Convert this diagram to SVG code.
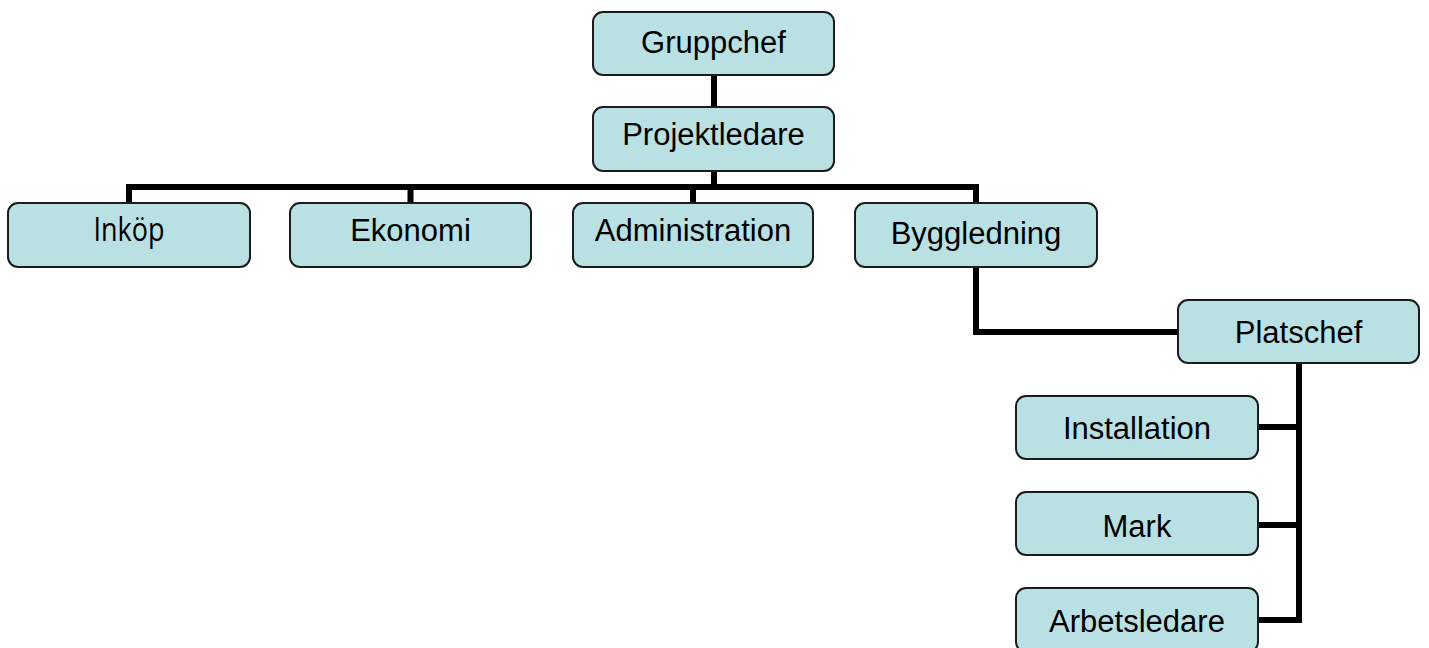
<svg xmlns="http://www.w3.org/2000/svg" width="1429" height="648" viewBox="0 0 1429 648">
<style>
.box{fill:#B9E0E3;stroke:#1c1c1c;stroke-width:2}
.lbl{font-family:"Liberation Sans",Arial,sans-serif;font-size:31px;fill:#000;text-anchor:middle}
.lbl2{font-family:"Open Sans","Noto Sans",sans-serif;font-size:32px;fill:#000;text-anchor:middle}
.con{fill:none;stroke:#000;stroke-width:6;stroke-linejoin:miter;stroke-linecap:butt}
</style>
<rect width="1429" height="648" fill="#fff"/>
<g id="connectors">
<path class="con" d="M714 75V107"/>
<path class="con" d="M714 171V187"/>
<path class="con" d="M129 203V187H976V203"/>
<path class="con" d="M410.5 187V203"/>
<path class="con" d="M693 187V203"/>
<path class="con" d="M976 267V332H1178"/>
<path class="con" d="M1299 363V620H1258"/>
<path class="con" d="M1258 427H1299"/>
<path class="con" d="M1258 525H1299"/>
</g>
<g id="gruppchef"><rect class="box" x="593" y="12" width="241" height="63" rx="10"/><text class="lbl" x="713.5" y="53">Gruppchef</text></g>
<g id="projektledare"><rect class="box" x="593" y="107" width="241" height="64" rx="10"/><text class="lbl" x="713.5" y="145">Projektledare</text></g>
<g id="inkop"><rect class="box" x="8" y="203" width="242" height="64" rx="10"/><text class="lbl2" x="129" y="241" textLength="71" lengthAdjust="spacingAndGlyphs">Inköp</text></g>
<g id="ekonomi"><rect class="box" x="290" y="203" width="241" height="64" rx="10"/><text class="lbl" x="410.5" y="241">Ekonomi</text></g>
<g id="administration"><rect class="box" x="573" y="203" width="240" height="64" rx="10"/><text class="lbl" x="693" y="241">Administration</text></g>
<g id="byggledning"><rect class="box" x="855" y="203" width="242" height="64" rx="10"/><text class="lbl" x="976" y="244">Byggledning</text></g>
<g id="platschef"><rect class="box" x="1178" y="300" width="241" height="63" rx="10"/><text class="lbl" x="1298.5" y="343">Platschef</text></g>
<g id="installation"><rect class="box" x="1016" y="396" width="242" height="63" rx="10"/><text class="lbl" x="1137" y="439">Installation</text></g>
<g id="mark"><rect class="box" x="1016" y="492" width="242" height="63" rx="10"/><text class="lbl" x="1137" y="537">Mark</text></g>
<g id="arbetsledare"><rect class="box" x="1016" y="588" width="242" height="64" rx="10"/><text class="lbl" x="1137" y="632">Arbetsledare</text></g>
</svg>
